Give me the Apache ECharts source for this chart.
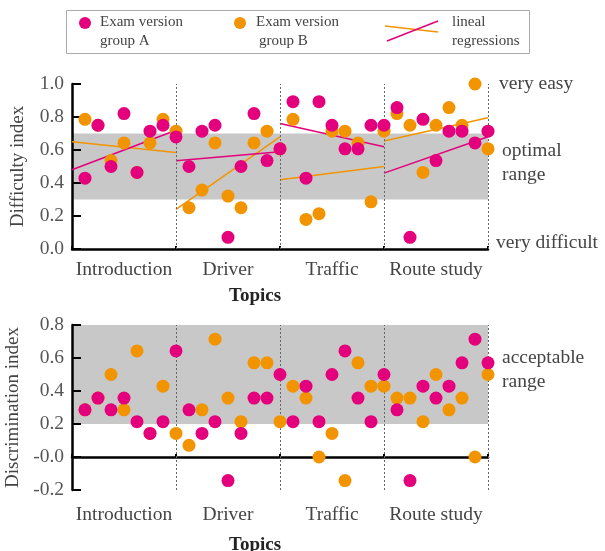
<!DOCTYPE html>
<html>
<head>
<meta charset="utf-8">
<script src="https://cdn.jsdelivr.net/npm/echarts@6/dist/echarts.min.js"></script>
<style>
  html, body { margin: 0; padding: 0; background: #fff; }
  #chart { width: 605px; height: 551px; }
</style>
</head>
<body>
<div id="chart"></div>
<script>
// topics along the x axis (8 items per topic)
const topics = ['Introduction', 'Driver', 'Traffic', 'Route study']
const itemsPerTopic = 8

// difficulty index per item
const diffA = [0.429, 0.75, 0.5, 0.821, 0.464, 0.714, 0.75, 0.679,
               0.5, 0.714, 0.75, 0.071, 0.5, 0.821, 0.536, 0.607,
               0.893, 0.429, 0.893, 0.75, 0.607, 0.607, 0.75, 0.75,
               0.857, 0.071, 0.786, 0.536, 0.714, 0.714, 0.643, 0.714]
const diffB = [0.786, 0.75, 0.536, 0.643, 0.464, 0.643, 0.786, 0.714,
               0.25, 0.357, 0.643, 0.321, 0.25, 0.643, 0.714, 0.607,
               0.786, 0.179, 0.214, 0.714, 0.714, 0.643, 0.286, 0.714,
               0.821, 0.75, 0.464, 0.75, 0.857, 0.75, 1.0, 0.607]

// discrimination index per item
const discA = [0.286, 0.357, 0.286, 0.357, 0.214, 0.143, 0.214, 0.643,
               0.286, 0.143, 0.214, -0.143, 0.143, 0.357, 0.357, 0.5,
               0.214, 0.429, 0.214, 0.5, 0.643, 0.357, 0.214, 0.5,
               0.286, -0.143, 0.429, 0.357, 0.429, 0.571, 0.714, 0.571]
const discB = [0.286, 0.357, 0.5, 0.286, 0.643, 0.143, 0.429, 0.143,
               0.071, 0.286, 0.714, 0.357, 0.214, 0.571, 0.571, 0.214,
               0.429, 0.357, 0.0, 0.143, -0.143, 0.571, 0.429, 0.429,
               0.357, 0.357, 0.214, 0.5, 0.286, 0.357, 0.0, 0.5]

// regression lines per topic: [value at start, value at end]
const regA = [[0.48, 0.72], [0.535, 0.59], [0.76, 0.62], [0.46, 0.68]]
const regB = [[0.65, 0.585], [0.24, 0.68], [0.42, 0.50], [0.655, 0.795]]

// shaded ranges
const optimalRange = [0.3, 0.7]
const acceptableRange = [0.2, 0.8]

// tick labels
const diffTicks = ['0.0', '0.2', '0.4', '0.6', '0.8', '1.0']
const discTicks = ['-0.2', '-0.0', '0.2', '0.4', '0.6', '0.8']

const MAGENTA = '#e4007c'
const ORANGE = '#f29400'
const FONT = '"Liberation Serif", "DejaVu Serif", serif'
const nItems = topics.length * itemsPerTopic

const chart = echarts.init(document.getElementById('chart'), null, { renderer: 'canvas' })

const valueX = (gi) => ({
  type: 'value', gridIndex: gi, min: 0, max: nItems, interval: itemsPerTopic,
  axisLine: { show: true, onZero: true, lineStyle: { color: '#000', width: 2.5 } },
  axisTick: { show: true, inside: true, length: 3, lineStyle: { color: '#000', width: 2 } },
  axisLabel: { show: false },
  splitLine: { show: false },
  z: 3
})

const catX = (gi, margin, gap) => ({
  type: 'category', gridIndex: gi, data: topics, position: 'bottom',
  axisLine: { show: false, onZero: false },
  axisTick: { show: false },
  axisLabel: { color: '#444', fontFamily: FONT, fontSize: 19.5, margin: margin, interval: 0, hideOverlap: false },
  name: 'Topics', nameLocation: 'middle', nameGap: gap,
  nameTextStyle: { color: '#222', fontFamily: FONT, fontSize: 19, fontWeight: 'bold', padding: [0, 50, 0, 0] }
})

const yAx = (gi, min, max, ticks, name) => ({
  type: 'value', gridIndex: gi, min: min, max: max, interval: 0.2,
  axisLine: { show: true, lineStyle: { color: '#000', width: 2.5 } },
  axisTick: { show: true, inside: true, length: 9, lineStyle: { color: '#000', width: 2 } },
  axisLabel: {
    color: '#555', fontFamily: FONT, fontSize: 19.5, margin: 8,
    formatter: (v) => ticks[Math.round((v - min) / 0.2)]
  },
  splitLine: { show: false },
  name: name, nameLocation: 'middle', nameGap: 44,
  nameTextStyle: { color: '#444', fontFamily: FONT, fontSize: 19 },
  z: 3
})

// gray band and dotted topic dividers
const backdrop = (ai, range) => [
  {
    type: 'scatter', xAxisIndex: ai * 2, yAxisIndex: ai, data: [], z: 1, silent: true,
    markArea: {
      silent: true,
      itemStyle: { color: '#c8c8c8', opacity: 1 },
      data: [[{ xAxis: 0, yAxis: range[0] }, { xAxis: nItems, yAxis: range[1] }]]
    }
  },
  {
    type: 'scatter', xAxisIndex: ai * 2, yAxisIndex: ai, data: [], z: 2, silent: true,
    markLine: {
      silent: true, symbol: ['none', 'none'], label: { show: false },
      lineStyle: { color: '#666', width: 1, type: [2, 2] },
      data: topics.map((t, i) => ({ xAxis: (i + 1) * itemsPerTopic }))
    }
  }
]

const regLines = (segs, color) => segs.map((s, t) => ({
  type: 'line', xAxisIndex: 0, yAxisIndex: 0, silent: true, z: 4,
  symbol: 'none', lineStyle: { color: color, width: 1.5 },
  data: [[t * itemsPerTopic, s[0]], [(t + 1) * itemsPerTopic, s[1]]]
}))

const dots = (vals, color, ai, z) => ({
  type: 'scatter', xAxisIndex: ai * 2, yAxisIndex: ai, z: z,
  symbol: 'circle', symbolSize: 13,
  itemStyle: { color: color, opacity: 1 },
  data: vals.map((v, i) => [i + 1, v])
})

const txt = (s, x, y, size, color) => ({
  type: 'text', x: x, y: y, silent: true,
  style: { text: s, fill: color || '#444', font: size + 'px ' + FONT, align: 'left', verticalAlign: 'middle' }
})

chart.setOption({
  animation: false,
  backgroundColor: '#fff',
  grid: [
    { left: 72, top: 84, width: 416, height: 165, containLabel: false, outerBoundsMode: 'none' },
    { left: 72, top: 325, width: 416, height: 165, containLabel: false, outerBoundsMode: 'none' }
  ],
  xAxis: [valueX(0), catX(0, 11, 38), valueX(1), catX(1, 15, 46)],
  yAxis: [
    yAx(0, 0, 1, diffTicks, 'Difficulty index'),
    yAx(1, -0.2, 0.8, discTicks, 'Discrimination index')
  ],
  series: [
    ...backdrop(0, optimalRange),
    ...backdrop(1, acceptableRange),
    ...regLines(regB, ORANGE),
    ...regLines(regA, MAGENTA),
    dots(diffB, ORANGE, 0, 5),
    dots(diffA, MAGENTA, 0, 6),
    dots(discB, ORANGE, 1, 5),
    dots(discA, MAGENTA, 1, 6)
  ],
  graphic: [
    // legend
    { type: 'rect', silent: true, shape: { x: 66.5, y: 10.5, width: 463, height: 43 },
      style: { fill: 'none', stroke: '#aaa', lineWidth: 1 } },
    { type: 'circle', silent: true, shape: { cx: 85, cy: 23, r: 6 }, style: { fill: MAGENTA } },
    txt('Exam version', 100, 22, 15),
    txt('group A', 100, 41, 15),
    { type: 'circle', silent: true, shape: { cx: 240, cy: 23, r: 6 }, style: { fill: ORANGE } },
    txt('Exam version', 256, 22, 15),
    txt('group B', 259, 41, 15),
    { type: 'line', silent: true, shape: { x1: 385, y1: 26, x2: 438, y2: 32 }, style: { stroke: ORANGE, lineWidth: 1.5 } },
    { type: 'line', silent: true, shape: { x1: 387, y1: 41, x2: 438, y2: 21 }, style: { stroke: MAGENTA, lineWidth: 1.5 } },
    txt('lineal', 452, 22, 15),
    txt('regressions', 452, 41, 15),
    // side notes
    txt('very easy', 499, 84, 19.5),
    txt('optimal', 502, 151, 19.5),
    txt('range', 502, 175, 19.5),
    txt('very difficult', 496, 243, 19.5),
    txt('acceptable', 502, 358, 19.5),
    txt('range', 502, 382, 19.5)
  ]
})
</script>
</body>
</html>
